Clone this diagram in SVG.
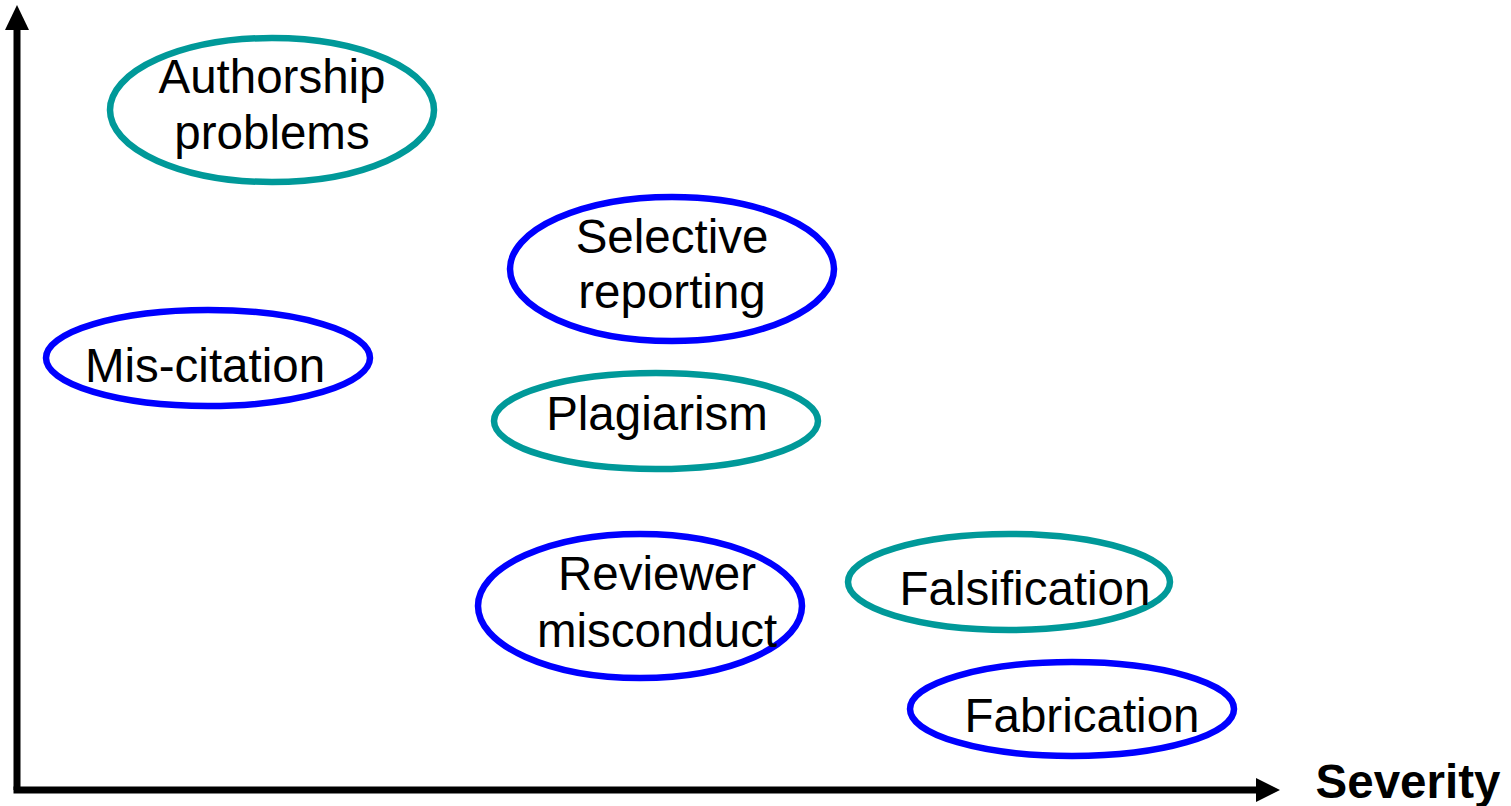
<svg xmlns="http://www.w3.org/2000/svg" width="1511" height="806" viewBox="0 0 1511 806">
<style>
.teal{fill:none;stroke:#009999;stroke-width:6.5}
.blue{fill:none;stroke:#0000ff;stroke-width:6.5}
text{font-family:"Liberation Sans",Arial,sans-serif;font-size:47.5px;fill:#000;text-anchor:middle}
.axis{stroke:#000;stroke-width:7;fill:none}
</style>
<rect width="1511" height="806" fill="#fff"/>
<g id="axes">
<line class="axis" x1="17" y1="790" x2="17" y2="28"/>
<polygon points="17,5 5,30 29,30" fill="#000"/>
<line class="axis" x1="13.5" y1="790" x2="1258" y2="790"/>
<polygon points="1280,790 1256,778 1256,802" fill="#000"/>
<text x="1408" y="798" style="font-weight:bold">Severity</text>
</g>
<g id="authorship">
<ellipse class="teal" cx="272" cy="110" rx="162" ry="72"/>
<text x="272" y="93">Authorship</text>
<text x="272" y="149">problems</text>
</g>
<g id="selective">
<ellipse class="blue" cx="672" cy="269" rx="162" ry="72"/>
<text x="672" y="253">Selective</text>
<text x="672" y="308">reporting</text>
</g>
<g id="miscitation">
<ellipse class="blue" cx="208" cy="358" rx="162" ry="48"/>
<text x="205" y="382">Mis-citation</text>
</g>
<g id="plagiarism">
<ellipse class="teal" cx="656" cy="421" rx="162" ry="48"/>
<text x="657" y="430">Plagiarism</text>
</g>
<g id="reviewer">
<ellipse class="blue" cx="640" cy="606" rx="162" ry="72"/>
<text x="657" y="590">Reviewer</text>
<text x="657" y="647">misconduct</text>
</g>
<g id="falsification">
<ellipse class="teal" cx="1009" cy="582" rx="161" ry="48"/>
<text x="1025" y="605">Falsification</text>
</g>
<g id="fabrication">
<ellipse class="blue" cx="1072" cy="709" rx="162" ry="47"/>
<text x="1082" y="732">Fabrication</text>
</g>
</svg>
